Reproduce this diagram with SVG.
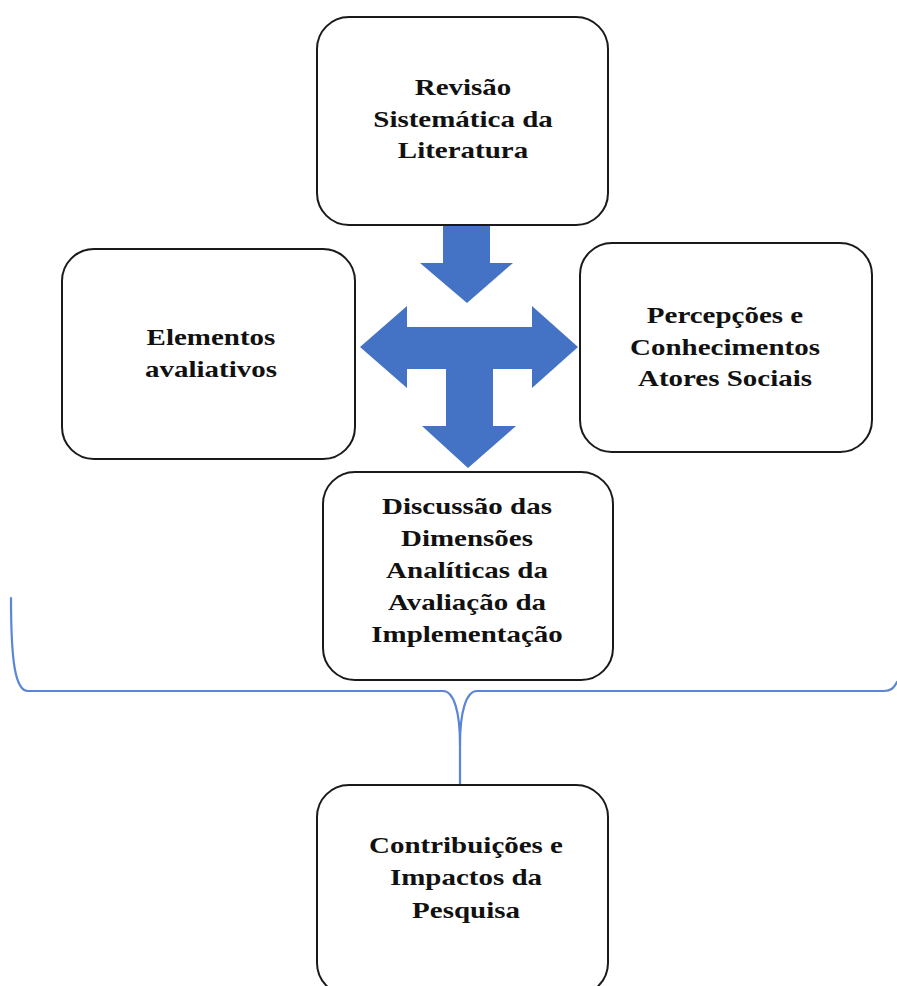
<svg xmlns="http://www.w3.org/2000/svg" width="897" height="986" viewBox="0 0 897 986">
  <style>
    .box { fill: #ffffff; stroke: #1a1a1a; stroke-width: 2; }
    .lbl { font-family: "Liberation Serif", "Times New Roman", serif; font-weight: bold; font-size: 23px; fill: #111111; text-anchor: middle; }
    .arrow { fill: #4472c4; }
    .brace { fill: none; stroke: #5b86d6; stroke-width: 2.2; stroke-linecap: round; }
  </style>
  <rect width="897" height="986" fill="#ffffff"/>

  <!-- brace grouping the upper stage and leading into the last box -->
  <g id="connectors">
    <path class="brace" d="M11,598 C11,660 15,691 28,691 L443,691 C454,691 460,712 460,745 L460,785"/>
    <path class="brace" d="M460,745 C460,712 466,691 477,691 L884,691 C891,691 894,688 897,682"/>
    <!-- block arrow from the review down to the cross -->
    <polygon class="arrow" points="443,226 490,226 490,263 513,263 467,303 420,263 443,263"/>
    <!-- three-way block arrow -->
    <polygon class="arrow" points="360,347 407,306 407,327 532,327 532,306 578,347 532,388 532,369 493,369 493,426 516,426 468,468 422,426 446,426 446,369 407,369 407,388"/>
  </g>

  <g id="revisao">
    <rect class="box" x="317" y="17" width="291" height="208" rx="32"/>
    <g transform="translate(463,0) scale(1.26,1)">
      <text class="lbl" x="0" y="95">Revisão</text>
      <text class="lbl" x="0" y="127">Sistemática da</text>
      <text class="lbl" x="0" y="158">Literatura</text>
    </g>
  </g>

  <g id="elementos">
    <rect class="box" x="62" y="249" width="293" height="210" rx="32"/>
    <g transform="translate(211,0) scale(1.26,1)">
      <text class="lbl" x="0" y="345">Elementos</text>
      <text class="lbl" x="0" y="377">avaliativos</text>
    </g>
  </g>

  <g id="percepcoes">
    <rect class="box" x="580" y="243" width="292" height="209" rx="32"/>
    <g transform="translate(725,0) scale(1.26,1)">
      <text class="lbl" x="0" y="323">Percepções e</text>
      <text class="lbl" x="0" y="355">Conhecimentos</text>
      <text class="lbl" x="0" y="386">Atores Sociais</text>
    </g>
  </g>

  <g id="discussao">
    <rect class="box" x="323" y="472" width="290" height="208" rx="32"/>
    <g transform="translate(467,0) scale(1.26,1)">
      <text class="lbl" x="0" y="514">Discussão das</text>
      <text class="lbl" x="0" y="546">Dimensões</text>
      <text class="lbl" x="0" y="578">Analíticas da</text>
      <text class="lbl" x="0" y="610">Avaliação da</text>
      <text class="lbl" x="0" y="642">Implementação</text>
    </g>
  </g>

  <g id="contribuicoes">
    <rect class="box" x="317" y="785" width="291" height="210" rx="32"/>
    <g transform="translate(466,0) scale(1.26,1)">
      <text class="lbl" x="0" y="853">Contribuições e</text>
      <text class="lbl" x="0" y="885">Impactos da</text>
      <text class="lbl" x="0" y="918">Pesquisa</text>
    </g>
  </g>
</svg>
